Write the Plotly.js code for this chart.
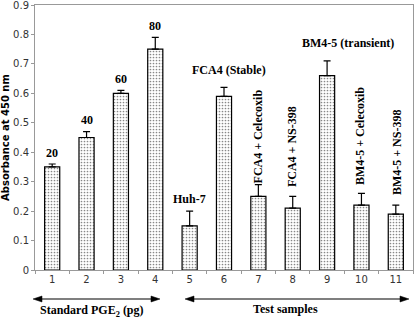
<!DOCTYPE html>
<html><head><meta charset="utf-8">
<script src="https://cdn.plot.ly/plotly-3.0.1.min.js"></script>
<style>html,body{margin:0;padding:0;background:#fff;}#chart{width:416px;height:318px;}</style>
</head><body><div id="chart"></div>
<script>
const categories = ['1','2','3','4','5','6','7','8','9','10','11'];
const absorbance = [0.35, 0.45, 0.60, 0.75, 0.15, 0.59, 0.25, 0.21, 0.66, 0.22, 0.19];
const errorUp = [0.01, 0.02, 0.01, 0.04, 0.05, 0.03, 0.04, 0.04, 0.05, 0.04, 0.03];
const barLabels = ['20','40','60','80','Huh-7','FCA4 (Stable)','FCA4 + Celecoxib','FCA4 + NS-398','BM4-5 (transient)','BM4-5 + Celecoxib','BM4-5 + NS-398'];
const verticalLabel = [false,false,false,false,false,false,true,true,false,true,true];
const groupLabels = ['Standard PGE<sub>2</sub> (pg)','Test samples'];
const yTickVals = [0, 0.1, 0.2, 0.3, 0.4, 0.5, 0.6, 0.7, 0.8, 0.9];
const yTickText = ['0','0.1','0.2','0.3','0.4','0.5','0.6','0.7','0.8','0.9'];

const serif = {family:'"Liberation Serif", "Times New Roman", serif', size:12, color:'#000'};
const annotations = [];
const labelPlace = [
  {dx:0, dy:0.008}, {dx:0, dy:0.008}, {dx:0, dy:0.008}, {dx:0, dy:0.008},
  {dx:0, dy:0.01}, {dx:0.14, dy:0.03}, {dx:0, yc:0.455}, {dx:0, yc:0.42},
  {dx:0.61, dy:0.03}, {dx:-0.04, yc:0.455}, {dx:0.03, yc:0.40}
];
categories.forEach((c,i)=>{
  const top = absorbance[i] + errorUp[i];
  const o = labelPlace[i];
  if (verticalLabel[i]) {
    annotations.push({x:i+o.dx, y:o.yc, xref:'x', yref:'y', text:'<b>'+barLabels[i]+'</b>', showarrow:false, textangle:-90, yanchor:'middle', xanchor:'center', font:serif});
  } else {
    annotations.push({x:i+o.dx, y:top+o.dy, xref:'x', yref:'y', text:'<b>'+barLabels[i]+'</b>', showarrow:false, yanchor:'bottom', xanchor:'center', font:serif});
  }
});
annotations.push({x:0.151, y:-0.153, xref:'paper', yref:'paper', text:'<b>'+groupLabels[0]+'</b>', showarrow:false, font:serif, yanchor:'middle', xanchor:'center'});
annotations.push({x:0.664, y:-0.149, xref:'paper', yref:'paper', text:'<b>'+groupLabels[1]+'</b>', showarrow:false, font:serif, yanchor:'middle', xanchor:'center'});

const M = {l:35, r:3, t:5, b:48}, W = 416, H = 318;
const pw = W - M.l - M.r, ph = H - M.t - M.b;
const px = v => (v - M.l) / pw;
const py = v => (H - M.b - v) / ph;
const shapes = [];
function dblArrow(x0, x1, y) {
  const L = 9, hh = 3;
  shapes.push({type:'line', xref:'paper', yref:'paper', x0:px(x0+4), x1:px(x1-4), y0:py(y), y1:py(y), line:{color:'#000', width:1.2}});
  shapes.push({type:'path', xref:'paper', yref:'paper', path:`M ${px(x0)} ${py(y)} L ${px(x0+L)} ${py(y-hh)} L ${px(x0+L)} ${py(y+hh)} Z`, fillcolor:'#000', line:{color:'#000', width:0.5}});
  shapes.push({type:'path', xref:'paper', yref:'paper', path:`M ${px(x1)} ${py(y)} L ${px(x1-L)} ${py(y-hh)} L ${px(x1-L)} ${py(y+hh)} Z`, fillcolor:'#000', line:{color:'#000', width:0.5}});
}
dblArrow(33, 160, 299);
dblArrow(185, 409, 299);

const trace = {
  type:'bar', x:categories, y:absorbance,
  error_y:{type:'data', symmetric:false, array:errorUp, arrayminus:errorUp.map(()=>0), color:'#000', thickness:1.2, width:3.5},
  marker:{color:'#fff', line:{color:'#000', width:1.2}, pattern:{shape:'.', fgcolor:'#888', bgcolor:'#fff', size:3, solidity:0.25}},
  width:0.44, cliponaxis:false
};
const layout = {
  width:W, height:H,
  margin:M,
  paper_bgcolor:'#fff', plot_bgcolor:'#fff',
  showlegend:false,
  xaxis:{type:'category', showline:true, linecolor:'#999', linewidth:1, mirror:true, ticks:'outside', tickson:'boundaries', ticklen:3, tickcolor:'#999', showgrid:false, tickfont:{family:'"DejaVu Sans", Verdana, sans-serif', size:10, color:'#333'}, range:[-0.5,10.5]},
  yaxis:{range:[0,0.9], tickmode:'array', tickvals:yTickVals, ticktext:yTickText, ticklabeloverflow:'allow', showline:true, linecolor:'#999', linewidth:1, mirror:true, ticks:'outside', ticklen:3, tickcolor:'#999', showgrid:false, zeroline:false, tickfont:{family:'"DejaVu Sans", Verdana, sans-serif', size:10, color:'#333'}, title:{text:'<b>Absorbance at 450 nm</b>', font:{family:'"DejaVu Sans", Verdana, sans-serif', size:10, color:'#000'}, standoff:6}},
  annotations:annotations,
  shapes:shapes
};
Plotly.newPlot('chart', [trace], layout, {staticPlot:true, displayModeBar:false});
</script></body></html>
